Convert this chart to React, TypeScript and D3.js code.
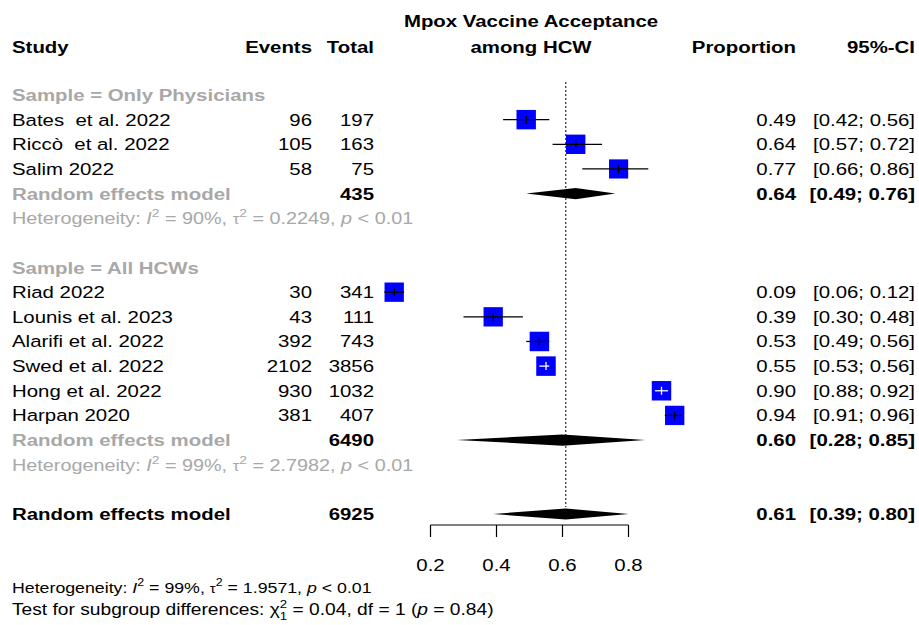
import React from 'react';
import * as d3 from 'd3';

// subgroup 1: only physicians
const studies1 = ['Bates  et al. 2022', 'Riccò  et al. 2022', 'Salim 2022'];
const events1 = [96, 105, 58];
const total1 = [197, 163, 75];
const prop1 = [0.49, 0.64, 0.77];
const lower1 = [0.42, 0.57, 0.66];
const upper1 = [0.56, 0.72, 0.86];
const weight1 = [11.16, 11.12, 10.86];

// subgroup 2: all HCWs
const studies2 = ['Riad 2022', 'Lounis et al. 2023', 'Alarifi et al. 2022', 'Swed et al. 2022', 'Hong et al. 2022', 'Harpan 2020'];
const events2 = [30, 43, 392, 2102, 930, 381];
const total2 = [341, 111, 743, 3856, 1032, 407];
const prop2 = [0.09, 0.39, 0.53, 0.55, 0.90, 0.94];
const lower2 = [0.06, 0.30, 0.49, 0.53, 0.88, 0.91];
const upper2 = [0.12, 0.48, 0.56, 0.56, 0.92, 0.96];
const weight2 = [11.07, 11.06, 11.24, 11.26, 11.21, 11.03];

// random effects models: subgroup 1, subgroup 2, overall
const reTotal = [435, 6490, 6925];
const reProp = [0.64, 0.60, 0.61];
const reLower = [0.49, 0.28, 0.39];
const reUpper = [0.76, 0.85, 0.80];

const subgroupLabels = ['Sample = Only Physicians', 'Sample = All HCWs'];
const hetI2 = ['90%', '99%', '99%'];
const hetTau2 = ['0.2249', '2.7982', '1.9571'];
const axisTicks = [0.2, 0.4, 0.6, 0.8];

const W = 919;
const H = 625;
const SX = 1.2;
const GRAY = '#a8a8a8';
const FONT = 'Liberation Sans, Arial, sans-serif';

const x = d3.scaleLinear().domain([0.2, 0.8]).range([430.5, 628.5]);
const row = d3.scaleLinear().domain([0, 17]).range([95, 514]);
const boxSize = d3.scaleSqrt().domain([0, 11.26]).range([0, 19.5]);
const f2 = d3.format('.2f');

const T = ({ x: tx, y: ty, anchor = 'start', size = 17, bold = false, fill = '#000', children }: any) => (
  <text
    transform={`translate(${tx},${ty}) scale(${SX},1)`}
    textAnchor={anchor}
    fontSize={size}
    fontWeight={bold ? 'bold' : 'normal'}
    fill={fill}
    fontFamily={FONT}
    style={{ whiteSpace: 'pre' }}
  >
    {children}
  </text>
);

const Het = ({ y, i, fill, size = 17 }: any) => (
  <T x={12} y={y} fill={fill} size={size}>
    <tspan>Heterogeneity: </tspan>
    <tspan fontStyle="italic">I</tspan>
    <tspan dy={-7} fontSize={size * 0.7}>2</tspan>
    <tspan dy={7}>{` = ${hetI2[i]}, `}</tspan>
    <tspan fontSize={size * 0.85}>τ</tspan>
    <tspan dy={-7} fontSize={size * 0.7}>2</tspan>
    <tspan dy={7}>{` = ${hetTau2[i]}, `}</tspan>
    <tspan fontStyle="italic">p</tspan>
    <tspan>{' < 0.01'}</tspan>
  </T>
);

const Study = ({ r, name, ev, n, p, lo, hi, w }: any) => {
  const cy = row(r);
  const s = boxSize(w);
  const inside = x(lo) >= x(p) - s / 2 && x(hi) <= x(p) + s / 2;
  const lc = inside ? '#fff' : '#000';
  return (
    <g>
      <T x={12} y={cy + 6}>{name}</T>
      <T x={312} y={cy + 6} anchor="end">{ev}</T>
      <T x={374} y={cy + 6} anchor="end">{n}</T>
      <rect x={x(p) - s / 2} y={cy - s / 2} width={s} height={s} fill="#0000ff" />
      <line x1={x(lo)} x2={x(hi)} y1={cy} y2={cy} stroke={lc} strokeWidth={1.3} />
      <line x1={x(p)} x2={x(p)} y1={cy - 4} y2={cy + 4} stroke={lc} strokeWidth={1.3} />
      <T x={796} y={cy + 6} anchor="end">{f2(p)}</T>
      <T x={915} y={cy + 6} anchor="end">{`[${f2(lo)}; ${f2(hi)}]`}</T>
    </g>
  );
};

const Diamond = ({ r, i, label, fill }: any) => {
  const cy = row(r);
  const h = 5.6;
  const pts = [
    [x(reLower[i]), cy],
    [x(reProp[i]), cy - h],
    [x(reUpper[i]), cy],
    [x(reProp[i]), cy + h],
  ].map((d) => d.join(',')).join(' ');
  return (
    <g>
      <T x={12} y={cy + 6} bold fill={fill}>{label}</T>
      <T x={374} y={cy + 6} anchor="end" bold>{reTotal[i]}</T>
      <polygon points={pts} fill="#000" />
      <T x={796} y={cy + 6} anchor="end" bold>{f2(reProp[i])}</T>
      <T x={915} y={cy + 6} anchor="end" bold>{`[${f2(reLower[i])}; ${f2(reUpper[i])}]`}</T>
    </g>
  );
};

export default function App() {
  const axisY = 525;
  return (
    <svg width={W} height={H} style={{ position: 'absolute', left: 0, top: 0, background: '#fff' }}>
      {/* header */}
      <T x={12} y={53} bold>Study</T>
      <T x={312} y={53} anchor="end" bold>Events</T>
      <T x={374} y={53} anchor="end" bold>Total</T>
      <T x={531} y={27} anchor="middle" bold>Mpox Vaccine Acceptance</T>
      <T x={531} y={53} anchor="middle" bold>among HCW</T>
      <T x={796} y={53} anchor="end" bold>Proportion</T>
      <T x={915} y={53} anchor="end" bold>95%-CI</T>

      {/* reference line at overall estimate */}
      <line x1={x(reProp[2])} x2={x(reProp[2])} y1={82} y2={507} stroke="#000" strokeWidth={1} strokeDasharray="2,2" />

      {/* subgroup 1 */}
      <T x={12} y={row(0) + 6} bold fill={GRAY}>{subgroupLabels[0]}</T>
      {studies1.map((s, i) => (
        <Study key={s} r={1 + i} name={s} ev={events1[i]} n={total1[i]} p={prop1[i]} lo={lower1[i]} hi={upper1[i]} w={weight1[i]} />
      ))}
      <Diamond r={4} i={0} label="Random effects model" fill={GRAY} />
      <Het y={row(5) + 6} i={0} fill={GRAY} size={16.5} />

      {/* subgroup 2 */}
      <T x={12} y={row(7) + 6} bold fill={GRAY}>{subgroupLabels[1]}</T>
      {studies2.map((s, i) => (
        <Study key={s} r={8 + i} name={s} ev={events2[i]} n={total2[i]} p={prop2[i]} lo={lower2[i]} hi={upper2[i]} w={weight2[i]} />
      ))}
      <Diamond r={14} i={1} label="Random effects model" fill={GRAY} />
      <Het y={row(15) + 6} i={1} fill={GRAY} size={16.5} />

      {/* overall */}
      <Diamond r={17} i={2} label="Random effects model" fill="#000" />

      {/* axis */}
      <line x1={x(0.2)} x2={x(0.8)} y1={axisY} y2={axisY} stroke="#000" strokeWidth={1.2} />
      {axisTicks.map((t) => (
        <g key={t}>
          <line x1={x(t)} x2={x(t)} y1={axisY} y2={axisY + 12} stroke="#000" strokeWidth={1.2} />
          <T x={x(t)} y={571} anchor="middle">{d3.format('.1f')(t)}</T>
        </g>
      ))}

      {/* bottom notes */}
      <Het y={593} i={2} fill="#000" size={14.8} />
      <T x={12} y={615} size={16}>
        <tspan>Test for subgroup differences: χ</tspan>
        <tspan dy={-7} fontSize={11}>2</tspan>
        <tspan dx={-6} dy={12} fontSize={11}>1</tspan>
        <tspan dy={-5}>{' = 0.04, df = 1 ('}</tspan>
        <tspan fontStyle="italic">p</tspan>
        <tspan>{' = 0.84)'}</tspan>
      </T>
    </svg>
  );
}
